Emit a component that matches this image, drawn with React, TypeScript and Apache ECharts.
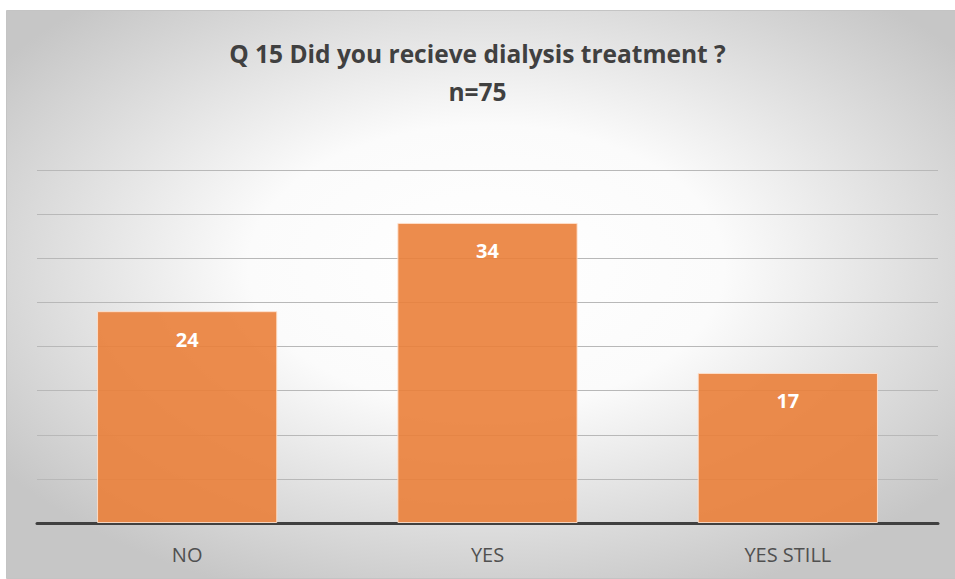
import React, { useEffect, useRef } from "react";
import * as echarts from "echarts";

const categories = ["NO", "YES", "YES STILL"];
const values = [24, 34, 17];
const titleLines = ["Q 15 Did you recieve dialysis treatment ?", "n=75"];
const yMax = 40;
const yInterval = 5;

export default function App() {
  const ref = useRef<HTMLDivElement>(null);
  useEffect(() => {
    document.body.style.margin = "0";
    const chart = echarts.init(ref.current!, null, { renderer: "svg" });
    chart.setOption({
      animation: false,
      graphic: [
        {
          type: "rect",
          z: -10,
          silent: true,
          shape: { x: 6.5, y: 10.5, width: 960, height: 568 },
          style: {
            fill: new echarts.graphic.RadialGradient(0.5, 0.45, 0.62, [
              { offset: 0, color: "#ffffff" },
              { offset: 0.4, color: "#fbfbfb" },
              { offset: 1, color: "#c6c6c6" },
            ]),
            stroke: "#c4c4c4",
            lineWidth: 1,
          },
        },
      ],
      title: {
        text: titleLines.join("\n"),
        left: "center",
        top: 29,
        textStyle: {
          fontFamily: "Open Sans",
          fontWeight: "bold",
          fontSize: 24.5,
          lineHeight: 38,
          color: "#404040",
        },
      },
      grid: { left: 37, right: 17, top: 170, bottom: 56 },
      xAxis: {
        type: "category",
        data: categories,
        axisLine: { lineStyle: { color: "#404040", width: 3 } },
        axisTick: { show: false },
        axisLabel: {
          margin: 21,
          fontFamily: "Open Sans",
          fontSize: 20,
          color: "#505050",
        },
      },
      yAxis: {
        type: "value",
        min: 0,
        max: yMax,
        interval: yInterval,
        axisLabel: { show: false },
        axisLine: { show: false },
        axisTick: { show: false },
        splitLine: { lineStyle: { color: "#b8b8b8", width: 1 } },
      },
      series: [
        {
          type: "bar",
          data: values,
          barCategoryGap: "40%",
          itemStyle: {
            color: "rgba(234,128,58,0.9)",
            borderColor: "rgba(255,225,205,0.9)",
            borderWidth: 1,
          },
          label: {
            show: true,
            position: "insideTop",
            distance: 18,
            color: "#ffffff",
            fontFamily: "Open Sans",
            fontWeight: "bold",
            fontSize: 20,
          },
        },
      ],
    });
    return () => chart.dispose();
  }, []);
  return <div ref={ref} style={{ width: 955, height: 579 }} />;
}
